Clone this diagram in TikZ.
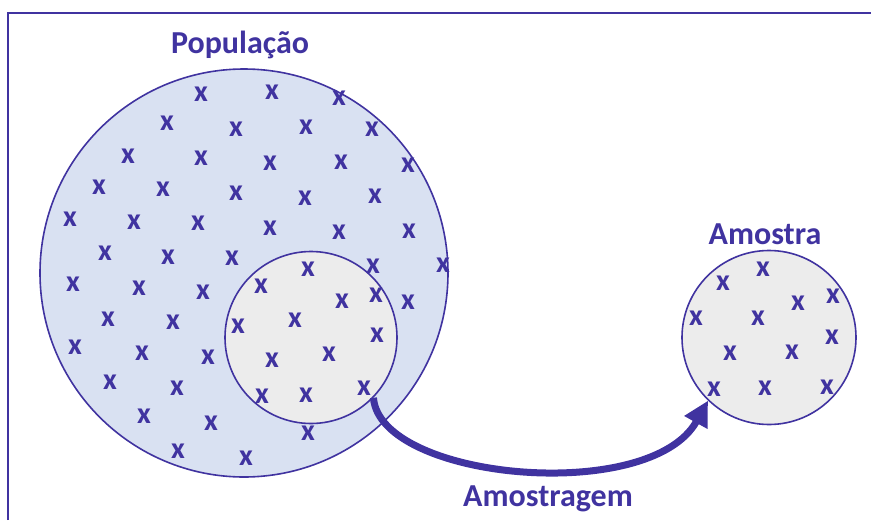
\documentclass[tikz,border=0pt]{standalone}
\usepackage{fontspec}
\setmainfont{Carlito}
\usetikzlibrary{arrows.meta}

\definecolor{ink}{RGB}{64,51,160}
\definecolor{popfill}{RGB}{217,225,242}
\definecolor{samplefill}{RGB}{236,236,236}

\begin{document}
\begin{tikzpicture}[x=1pt,y=-1pt,>={Triangle[length=25pt,width=25pt]},
	]

	\tikzset{mark x/.style={
				inner sep=0pt,
				text=ink,
				font=\fontsize{30}{32}\selectfont\bfseries}
	}
	\tikzset{set circle/.style={
				circle,
				draw=ink,
				line width=1.6pt,
				inner sep=0pt}
	}
	\tikzset{set label/.style={
				anchor=base,
				inner sep=0pt,
				text=ink,
				font=\fontsize{32}{38}\selectfont\bfseries}
	}

	\useasboundingbox (0,0) rectangle (871,520);
	\draw[ink,line width=1.4pt] (8,520) -- (8,13) -- (871,13);

	\node[set circle,fill=popfill,minimum size=408pt] (pop) at (244,273) {};
	\node[set circle,fill=samplefill,minimum size=172pt] (sub) at (311,337.5) {};
	\node[set circle,fill=samplefill,minimum size=174pt] (amostra) at (769,337.5) {};

	\node[set label] (poplabel) at (240,53) {População};
	\node[set label] (amostralabel) at (765,244) {Amostra};

	% population
	\node[mark x] (p1) at (201,94) {x};
	\node[mark x] (p2) at (272,92) {x};
	\node[mark x] (p3) at (339,98) {x};
	\node[mark x] (p4) at (167,123) {x};
	\node[mark x] (p5) at (236,129) {x};
	\node[mark x] (p6) at (306,127) {x};
	\node[mark x] (p7) at (372,129) {x};
	\node[mark x] (p8) at (128,156) {x};
	\node[mark x] (p9) at (201,158) {x};
	\node[mark x] (p10) at (270,163) {x};
	\node[mark x] (p11) at (341,162) {x};
	\node[mark x] (p12) at (408,165) {x};
	\node[mark x] (p13) at (99,187) {x};
	\node[mark x] (p14) at (163,189) {x};
	\node[mark x] (p15) at (236,193) {x};
	\node[mark x] (p16) at (305,198) {x};
	\node[mark x] (p17) at (375,196) {x};
	\node[mark x] (p18) at (70,219) {x};
	\node[mark x] (p19) at (134,222) {x};
	\node[mark x] (p20) at (198,223) {x};
	\node[mark x] (p21) at (270,228) {x};
	\node[mark x] (p22) at (339,232) {x};
	\node[mark x] (p23) at (409,231) {x};
	\node[mark x] (p24) at (105,253) {x};
	\node[mark x] (p25) at (168,257) {x};
	\node[mark x] (p26) at (232,258) {x};
	\node[mark x] (p27) at (373,266) {x};
	\node[mark x] (p28) at (443,265) {x};
	\node[mark x] (p29) at (73,284) {x};
	\node[mark x] (p30) at (139,288) {x};
	\node[mark x] (p31) at (203,292) {x};
	\node[mark x] (p32) at (408,302) {x};
	\node[mark x] (p33) at (108,319) {x};
	\node[mark x] (p34) at (173,322) {x};
	\node[mark x] (p35) at (75,347) {x};
	\node[mark x] (p36) at (142,353) {x};
	\node[mark x] (p37) at (208,357) {x};
	\node[mark x] (p38) at (110,382) {x};
	\node[mark x] (p39) at (177,388) {x};
	\node[mark x] (p40) at (144,416) {x};
	\node[mark x] (p41) at (211,423) {x};
	\node[mark x] (p42) at (308,433) {x};
	\node[mark x] (p43) at (178,451) {x};
	\node[mark x] (p44) at (246,458) {x};

	% inner set
	\node[mark x] (s1) at (308,269) {x};
	\node[mark x] (s2) at (261,286) {x};
	\node[mark x] (s3) at (342,301) {x};
	\node[mark x] (s4) at (376,295) {x};
	\node[mark x] (s5) at (238,326) {x};
	\node[mark x] (s6) at (295,320) {x};
	\node[mark x] (s7) at (377,335) {x};
	\node[mark x] (s8) at (272,360) {x};
	\node[mark x] (s9) at (329,354) {x};
	\node[mark x] (s10) at (262,396) {x};
	\node[mark x] (s11) at (306,395) {x};
	\node[mark x] (s12) at (364,388) {x};

	% sample
	\node[mark x] (a1) at (763,269) {x};
	\node[mark x] (a2) at (723,283) {x};
	\node[mark x] (a3) at (798,303) {x};
	\node[mark x] (a4) at (833,296) {x};
	\node[mark x] (a5) at (696,318) {x};
	\node[mark x] (a6) at (758,318) {x};
	\node[mark x] (a7) at (832,337) {x};
	\node[mark x] (a8) at (730,353) {x};
	\node[mark x] (a9) at (792,352) {x};
	\node[mark x] (a10) at (714,389) {x};
	\node[mark x] (a11) at (765,388) {x};
	\node[mark x] (a12) at (827,387) {x};

	\draw[->,ink,line width=7pt] (sub.-44) .. controls (380,480) and (650,505) .. (amostra.226);
	\node[set label] (arrowlabel) at (548,506) {Amostragem};

\end{tikzpicture}
\end{document}
